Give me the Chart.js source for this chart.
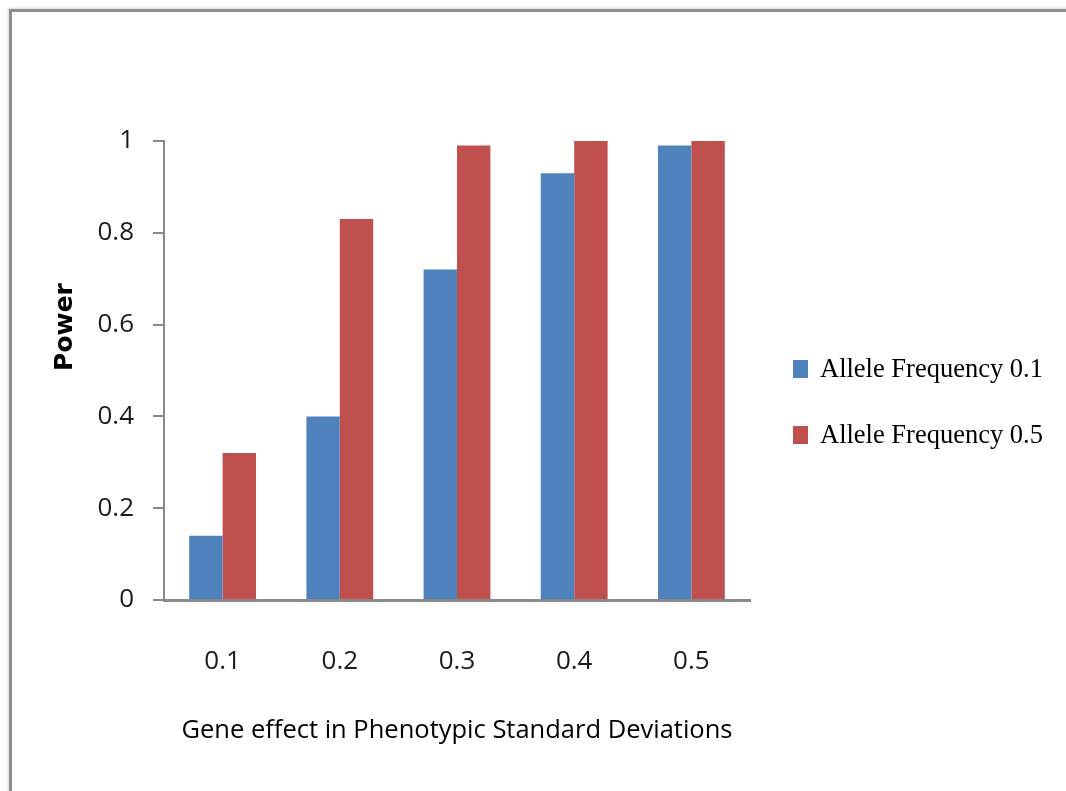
<!DOCTYPE html>
<html>
<head>
<meta charset="utf-8">
<script src="https://cdn.jsdelivr.net/npm/chart.js@4/dist/chart.umd.min.js"></script>
<style>
    html, body { margin: 0; padding: 0; background: #fff; }
    #wrap { position: relative; width: 1066px; height: 791px; overflow: hidden; }
    #frame {
        position: absolute; left: 9px; top: 9px; width: 1200px; height: 900px;
        border-top: 3px solid #8e8e8e; border-left: 3px solid #8e8e8e;
        box-shadow: -1px -1px 2px rgba(0,0,0,0.15);
    }
    #powerChart { position: absolute; left: 0; top: 0; }
</style>
</head>
<body>
<div id="wrap">
    <div id="frame"></div>
    <canvas id="powerChart" width="1066" height="791"></canvas>
</div>
<script>
const effets = ["0.1", "0.2", "0.3", "0.4", "0.5"];
const freq01 = [0.14, 0.40, 0.72, 0.93, 0.99];
const freq05 = [0.32, 0.83, 0.99, 1.0, 1.0];
const series = ["Allele Frequency 0.1", "Allele Frequency 0.5"];
const yTicks = [0, 0.2, 0.4, 0.6, 0.8, 1];

const tickFont = { family: "'Open Sans', sans-serif", size: 26 };

// legenda desenhada à direita, fora da área do gráfico
const legendaDireita = {
    id: "legendaDireita",
    afterDraw(chart) {
        const ctx = chart.ctx;
        ctx.save();
        ctx.font = "26.5px 'Liberation Serif', serif";
        ctx.textBaseline = "middle";
        chart.data.datasets.forEach((ds, i) => {
            const y = 369 + i * 66;
            ctx.fillStyle = ds.backgroundColor;
            ctx.fillRect(793, y - 9, 15, 18);
            ctx.fillStyle = "#000";
            ctx.fillText(ds.label, 820, y + 1);
        });
        ctx.restore();
    }
};

// título do eixo Y ("Power"), um pouco acima do centro
const tituloY = {
    id: "tituloY",
    afterDraw(chart) {
        const ctx = chart.ctx;
        ctx.save();
        ctx.translate(65, 327);
        ctx.rotate(-Math.PI / 2);
        ctx.font = "bold 25px 'DejaVu Sans', sans-serif";
        ctx.fillStyle = "#000";
        ctx.textAlign = "center";
        ctx.textBaseline = "middle";
        ctx.fillText("Power", 0, 0);
        ctx.restore();
    }
};

const ctx = document.getElementById("powerChart").getContext("2d");
window.powerChart = new Chart(ctx, {
    type: "bar",
    data: {
        labels: effets,
        datasets: [
            {
                label: series[0],
                data: freq01,
                backgroundColor: "#4F81BD",
                categoryPercentage: 0.57,
                barPercentage: 1.0
            },
            {
                label: series[1],
                data: freq05,
                backgroundColor: "#C0504D",
                categoryPercentage: 0.57,
                barPercentage: 1.0
            }
        ]
    },
    options: {
        responsive: false,
        animation: false,
        layout: { padding: { left: 0, top: 141, right: 316, bottom: 0 } },
        plugins: {
            legend: { display: false },
            tooltip: { enabled: false }
        },
        scales: {
            x: {
                grid: { display: false, drawTicks: false },
                border: { display: true, color: "#8a8a8a", width: 3 },
                ticks: { font: tickFont, color: "#1a1a1a", padding: 46 },
                title: {
                    display: true,
                    text: "Gene effect in Phenotypic Standard Deviations",
                    font: { family: "'Open Sans', sans-serif", size: 25.5 },
                    color: "#000",
                    padding: { top: 0, bottom: 45 }
                },
                afterFit(scale) { scale.height = 191; }
            },
            y: {
                min: 0,
                max: 1,
                afterBuildTicks(scale) { scale.ticks = yTicks.map(v => ({ value: v })); },
                grid: { drawOnChartArea: false, drawTicks: true, tickLength: 11, color: "#8a8a8a", lineWidth: 2 },
                border: { display: true, color: "#8a8a8a", width: 2 },
                ticks: {
                    font: tickFont,
                    color: "#1a1a1a",
                    padding: 19,
                    callback: value => String(value)
                },
                afterFit(scale) { scale.width = 164; }
            }
        }
    },
    plugins: [legendaDireita, tituloY]
});
</script>
</body>
</html>
